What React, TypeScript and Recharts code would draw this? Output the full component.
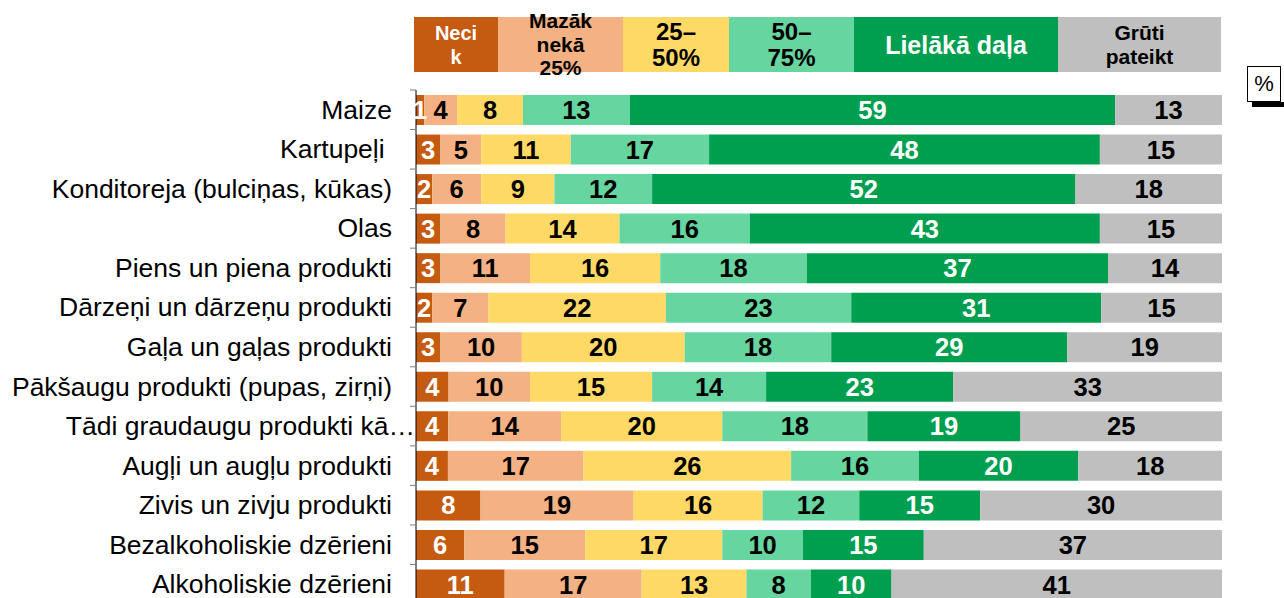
import React from 'react';
import { BarChart, Bar, XAxis, YAxis, LabelList, Legend } from 'recharts';

const categories = [
  'Maize',
  'Kartupeļi\u00A0',
  'Konditoreja (bulciņas, kūkas)',
  'Olas',
  'Piens un piena produkti',
  'Dārzeņi un dārzeņu produkti',
  'Gaļa un gaļas produkti',
  'Pākšaugu produkti (pupas, zirņi)',
  'Tādi graudaugu produkti kā…',
  'Augļi un augļu produkti',
  'Zivis un zivju produkti',
  'Bezalkoholiskie dzērieni',
  'Alkoholiskie dzērieni',
];
const necik = [1, 3, 2, 3, 3, 2, 3, 4, 4, 4, 8, 6, 11];
const mazak = [4, 5, 6, 8, 11, 7, 10, 10, 14, 17, 19, 15, 17];
const p25to50 = [8, 11, 9, 14, 16, 22, 20, 15, 20, 26, 16, 17, 13];
const p50to75 = [13, 17, 12, 16, 18, 23, 18, 14, 18, 16, 12, 10, 8];
const lielaka = [59, 48, 52, 43, 37, 31, 29, 23, 19, 20, 15, 15, 10];
const gruti = [13, 15, 18, 15, 14, 15, 19, 33, 25, 18, 30, 37, 41];

const seriesNames = ['Necik', 'Mazāk nekā 25%', '25–50%', '50–75%', 'Lielākā daļa', 'Grūti pateikt'];
const legendLines = [['Neci', 'k'], ['Mazāk', 'nekā', '25%'], ['25–', '50%'], ['50–', '75%'], ['Lielākā daļa'], ['Grūti', 'pateikt']];

const FONT = '"Liberation Sans", Arial, Helvetica, sans-serif';

const series = [
  { key: 'necik', color: '#C55A11', text: '#FFFFFF', lw: 84, fs: 20, lh: 24 },
  { key: 'mazak', color: '#F4B183', text: '#000000', lw: 125, fs: 21, lh: 23.5 },
  { key: 'p25', color: '#FFD966', text: '#000000', lw: 106, fs: 24, lh: 26 },
  { key: 'p50', color: '#66D59F', text: '#000000', lw: 125, fs: 24, lh: 26 },
  { key: 'liel', color: '#009F4F', text: '#FFFFFF', lw: 204, fs: 25, lh: 28 },
  { key: 'gruti', color: '#BFBFBF', text: '#000000', lw: 163, fs: 21, lh: 24 },
];

const data = categories.map((name, i) => ({
  name,
  necik: necik[i],
  mazak: mazak[i],
  p25: p25to50[i],
  p50: p50to75[i],
  liel: lielaka[i],
  gruti: gruti[i],
}));

const CatTick = (props: any) => {
  const { x, y, payload, index } = props;
  const half = payload && payload.offset ? payload.offset : 0;
  const label = String(payload.value);
  const truncated = label.endsWith('…');
  return (
    <g>
      <line x1={x - 6} x2={x} y1={y - half} y2={y - half} stroke="#7f7f7f" strokeWidth={1} />
      {index === categories.length - 1 ? (
        <line x1={x - 6} x2={x} y1={y + half} y2={y + half} stroke="#7f7f7f" strokeWidth={1} />
      ) : null}
      <text
        x={truncated ? x - 1 : x - 24}
        y={y}
        textAnchor="end"
        dominantBaseline="central"
        fontSize={26.5}
        fontFamily={FONT}
        fill="#000"
        style={{ whiteSpace: 'pre' }}
      >
        {label}
      </text>
    </g>
  );
};

const LegendContent = () => (
  <div style={{ display: 'flex', flexDirection: 'row', fontFamily: FONT, fontWeight: 'bold' }}>
    {series.map((s, i) => (
      <div
        key={s.key}
        style={{
          width: s.lw,
          height: 55,
          background: s.color,
          color: s.text,
          display: 'flex',
          flexDirection: 'column',
          alignItems: 'center',
          justifyContent: 'center',
          fontSize: s.fs,
          lineHeight: `${s.lh}px`,
          textAlign: 'center',
          overflow: 'visible',
        }}
      >
        {legendLines[i].map((l, j) => (
          <div key={j} style={{ whiteSpace: 'nowrap' }}>{l}</div>
        ))}
      </div>
    ))}
  </div>
);

export default function App() {
  return (
    <div
      style={{
        position: 'absolute',
        left: 0,
        top: 0,
        width: 1284,
        height: 598,
        overflow: 'hidden',
        background: '#fff',
      }}
    >
      <BarChart
        width={1284}
        height={610}
        data={data}
        layout="vertical"
        stackOffset="expand"
        margin={{ top: 90, right: 62, bottom: 6, left: 0 }}
      >
        <XAxis type="number" hide domain={[0, 1]} />
        <YAxis
          type="category"
          dataKey="name"
          width={416}
          interval={0}
          axisLine={{ stroke: '#000', strokeWidth: 1 }}
          tickLine={false}
          tickSize={0}
          tickMargin={0}
          tick={<CatTick />}
        />
        <Legend
          layout="horizontal"
          verticalAlign="middle"
          align="center"
          content={<LegendContent />}
          wrapperStyle={{ top: 17, left: 414, width: 807, height: 55 }}
        />
        {series.map((s, i) => (
          <Bar
            key={s.key}
            dataKey={s.key}
            name={seriesNames[i]}
            stackId="a"
            fill={s.color}
            barSize={30}
            isAnimationActive={false}
          >
            <LabelList
              dataKey={s.key}
              position="center"
              fill={s.text}
              fontSize={25.5}
              fontWeight="bold"
              fontFamily={FONT}
            />
          </Bar>
        ))}
      </BarChart>
      <div
        style={{
          position: 'absolute',
          left: 1252,
          top: 102,
          width: 32,
          height: 5,
          background: '#000',
        }}
      />
      <div
        style={{
          position: 'absolute',
          left: 1247,
          top: 66,
          width: 34,
          height: 36,
          boxSizing: 'border-box',
          border: '1px solid #000',
          background: '#fff',
          fontFamily: FONT,
          fontSize: 22,
          display: 'flex',
          alignItems: 'center',
          justifyContent: 'center',
        }}
      >
        %
      </div>
    </div>
  );
}
